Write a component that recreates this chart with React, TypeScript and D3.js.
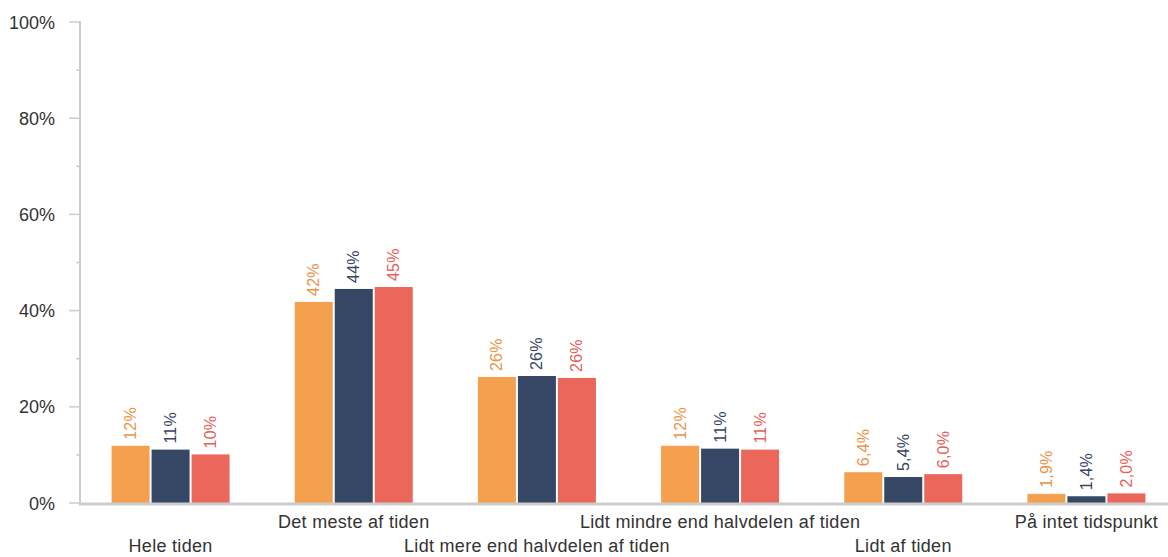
import React from "react";
import * as d3 from "d3";

const categories = [
  "Hele tiden",
  "Det meste af tiden",
  "Lidt mere end halvdelen af tiden",
  "Lidt mindre end halvdelen af tiden",
  "Lidt af tiden",
  "På intet tidspunkt",
];
const seriesA = [11.9, 41.8, 26.2, 11.9, 6.4, 1.9];
const seriesB = [11.1, 44.5, 26.4, 11.3, 5.4, 1.4];
const seriesC = [10.1, 44.9, 26.0, 11.1, 6.0, 2.0];
const labelsA = ["12%", "42%", "26%", "12%", "6,4%", "1,9%"];
const labelsB = ["11%", "44%", "26%", "11%", "5,4%", "1,4%"];
const labelsC = ["10%", "45%", "26%", "11%", "6,0%", "2,0%"];
const majorTicks = [0, 20, 40, 60, 80, 100];
const minorTicks = [10, 30, 50, 70, 90];

const barColors = ["#F4A04F", "#364665", "#EB675B"];
const labelColors = ["#E8944A", "#364665", "#E5605A"];

export default function App() {
  const W = 1168, H = 557;
  const left = 79, right = 1178, top = 22, bottom = 503;
  const x = d3.scaleBand<string>().domain(categories).range([left, right]).paddingInner(0).paddingOuter(0);
  const y = d3.scaleLinear().domain([0, 100]).range([bottom, top]);
  const barW = 38, gap = 2;
  const series = [seriesA, seriesB, seriesC];
  const labels = [labelsA, labelsB, labelsC];
  const font = "Liberation Sans, Arial, sans-serif";

  return (
    <svg width={W} height={H} style={{ position: "absolute", left: 0, top: 0, background: "#fff" }} fontFamily={font}>
      {categories.map((c, i) => {
        const cx = (x(c) as number) + x.bandwidth() / 2;
        return series.map((s, k) => {
          const bx = cx - barW * 1.5 - gap + k * (barW + gap);
          const v = s[i];
          return (
            <g key={c + k}>
              <rect x={bx} y={y(v)} width={barW} height={bottom - y(v)} fill={barColors[k]} />
              <text
                transform={`translate(${bx + barW / 2 + 5.5},${y(v) - 6}) rotate(-90)`}
                fontSize={16}
                letterSpacing={0.2}
                fill={labelColors[k]}
                textAnchor="start"
              >
                {labels[k][i]}
              </text>
            </g>
          );
        });
      })}
      <line x1={80} x2={80} y1={top - 1} y2={bottom} stroke="#cccccc" strokeWidth={2} />
      {majorTicks.map((t) => (
        <g key={t}>
          <line x1={69} x2={80} y1={y(t)} y2={y(t)} stroke="#cccccc" strokeWidth={1.5} />
          <text x={55} y={y(t) + 6.5} textAnchor="end" fontSize={18} fill="#333">
            {t}%
          </text>
        </g>
      ))}
      {minorTicks.map((t) => (
        <line key={t} x1={76} x2={80} y1={y(t)} y2={y(t)} stroke="#cccccc" strokeWidth={1.5} />
      ))}
      <line x1={79} x2={W} y1={bottom + 1} y2={bottom + 1} stroke="#cccccc" strokeWidth={3} />
      {categories.map((c, i) => (
        <text
          key={c}
          x={(x(c) as number) + x.bandwidth() / 2}
          y={i % 2 === 0 ? 552 : 528}
          textAnchor="middle"
          fontSize={18}
          letterSpacing={0.3}
          fill="#333"
        >
          {c}
        </text>
      ))}
    </svg>
  );
}
